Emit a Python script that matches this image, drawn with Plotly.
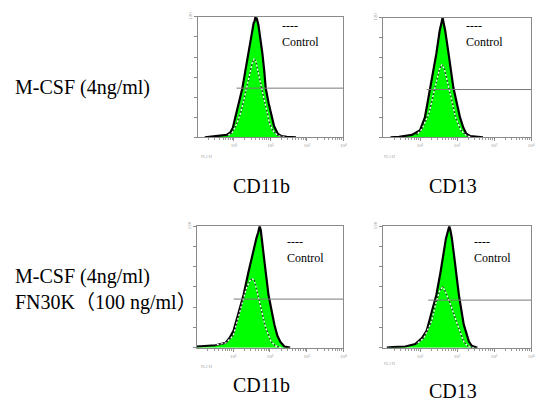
import plotly.graph_objects as go
import numpy as np

# ---- data: x = log10 fluorescence intensity (decades 10^0..10^4), y = cell counts ----
tick_decades = [1, 2, 3, 4]
tick_labels = ["10¹", "10²", "10³", "10⁴"]
y_top_label = "120"

# Panel 1: M-CSF, CD11b
p1_sample_x = [0.2, 0.4, 0.6, 0.8, 0.9, 0.97, 1.03, 1.1, 1.17, 1.23, 1.31, 1.39, 1.45, 1.49, 1.54,
               1.56, 1.57, 1.58, 1.59, 1.6, 1.62, 1.67, 1.71, 1.75, 1.78, 1.83, 1.87, 1.95, 2.03,
               2.1, 2.2, 2.3, 2.45, 2.7]
p1_sample_y = [0, 0.6, 1.2, 2.4, 4.8, 9.6, 19, 30, 40, 49, 66, 83, 96, 106, 114,
               115, 119, 117, 120, 118, 119, 112, 103, 92, 83, 66, 49, 34, 20,
               11, 3.6, 1.2, 0.4, 0]
p1_control_x = [0.8, 0.95, 1.07, 1.17, 1.25, 1.33, 1.39, 1.45, 1.5, 1.55, 1.6, 1.65, 1.71, 1.78,
                1.85, 1.92, 1.98, 2.08, 2.2, 2.4]
p1_control_y = [1.2, 4.8, 13, 23, 34, 46, 56, 67, 74, 78, 76, 67, 56, 44, 34, 23, 13, 6, 1.8, 0]
p1_gate_x = [1.07, 4.0]
p1_gate_y = [49, 49]

# Panel 2: M-CSF, CD13
p2_sample_x = [0.2, 0.43, 0.78, 1.0, 1.13, 1.21, 1.29, 1.37, 1.44, 1.53, 1.58, 1.6, 1.61, 1.63,
               1.68, 1.77, 1.83, 1.9, 1.99, 2.08, 2.17, 2.25, 2.36, 2.5, 2.7]
p2_sample_y = [0, 0.6, 2.4, 7.2, 20, 36, 50, 68, 84, 107, 116, 118, 120, 116,
               107, 84, 67, 50, 35, 20, 9.6, 3.6, 1.2, 0.4, 0]
p2_control_x = [0.9, 1.05, 1.24, 1.35, 1.45, 1.52, 1.59, 1.66, 1.74, 1.83, 1.96, 2.1, 2.25, 2.4]
p2_control_y = [2.4, 8.4, 24, 41, 58, 68, 73, 68, 56, 41, 20, 7.2, 1.8, 0]
p2_gate_x = [1.18, 4.0]
p2_gate_y = [48, 48]

# Panel 3: M-CSF + FN30K, CD11b
p3_sample_x = [0.0, 0.25, 0.52, 0.79, 0.9, 1.01, 1.16, 1.28, 1.41, 1.54, 1.63, 1.68, 1.71, 1.72,
               1.75, 1.78, 1.85, 1.96, 2.04, 2.12, 2.2, 2.28, 2.39, 2.55]
p3_sample_y = [1.2, 1.8, 2.4, 4.8, 9.6, 17, 36, 52, 74, 95, 108, 114, 117, 120,
               116, 108, 85, 52, 36, 23, 12, 6, 1.2, 0]
p3_control_x = [0.5, 0.8, 1.0, 1.1, 1.23, 1.35, 1.45, 1.52, 1.58, 1.66, 1.76, 1.88, 2.03, 2.15, 2.3]
p3_control_y = [2.4, 4.8, 12, 26, 42, 58, 66, 68, 66, 54, 36, 20, 6, 1.8, 0]
p3_gate_x = [1.01, 4.0]
p3_gate_y = [48, 48]

# Panel 4: M-CSF + FN30K, CD13
p4_sample_x = [0.1, 0.25, 0.6, 0.87, 1.05, 1.18, 1.32, 1.44, 1.55, 1.64, 1.7, 1.76, 1.79, 1.82,
               1.86, 1.94, 2.05, 2.18, 2.32, 2.4, 2.55]
p4_sample_y = [0, 0.6, 1.2, 3.6, 9.6, 17, 36, 52, 74, 95, 108, 116, 120, 116,
               108, 85, 52, 23, 6, 1.8, 0]
p4_control_x = [0.9, 1.1, 1.31, 1.44, 1.53, 1.61, 1.68, 1.83, 2.01, 2.18, 2.3, 2.45]
p4_control_y = [3.6, 9.6, 26, 46, 56, 60, 56, 42, 23, 6, 1.2, 0]
p4_gate_x = [1.22, 4.0]
p4_gate_y = [47, 47]

row_labels = ["M-CSF (4ng/ml)", "M-CSF (4ng/ml)<br>FN30K（100 ng/ml）"]
marker_labels = ["CD11b", "CD13", "CD11b", "CD13"]
control_label = "----<br>Control"
axis_title = "FL1-H"

# ---- layout helpers (pixel boxes of the 535x403 canvas) ----
W, H = 535, 403
def px(x):
    return x / W
def py(y):
    return 1 - y / H

boxes = [  # left, right, top, bottom in px
    (199, 346, 12, 134),
    (386, 535, 13, 134),
    (198, 346, 224, 347),
    (386, 535, 224, 347),
]

panels = [
    (p1_sample_x, p1_sample_y, p1_control_x, p1_control_y, p1_gate_x, p1_gate_y),
    (p2_sample_x, p2_sample_y, p2_control_x, p2_control_y, p2_gate_x, p2_gate_y),
    (p3_sample_x, p3_sample_y, p3_control_x, p3_control_y, p3_gate_x, p3_gate_y),
    (p4_sample_x, p4_sample_y, p4_control_x, p4_control_y, p4_gate_x, p4_gate_y),
]

minor_vals = [d + np.log10(k) for d in range(0, 4) for k in range(2, 10)]

fig = go.Figure()
serif = "Liberation Serif, Times New Roman, Noto Sans CJK SC, serif"

for i, (sx, sy, cx, cy, gx, gy) in enumerate(panels):
    n = "" if i == 0 else str(i + 1)
    xa, ya = "x" + n, "y" + n
    fig.add_trace(go.Scatter(x=sx, y=sy, xaxis=xa, yaxis=ya, mode="lines",
                             fill="tozeroy", fillcolor="#00FF00",
                             line=dict(color="black", width=2.2), hoverinfo="skip"))
    fig.add_trace(go.Scatter(x=cx, y=cy, xaxis=xa, yaxis=ya, mode="lines",
                             line=dict(color="#333333", width=1.2, dash="2px,2px"),
                             hoverinfo="skip"))
    fig.add_trace(go.Scatter(x=cx, y=cy, xaxis=xa, yaxis=ya, mode="lines",
                             line=dict(color="white", width=1.2, dash="0px,2px,2px,0px"),
                             hoverinfo="skip"))
    fig.add_trace(go.Scatter(x=gx, y=gy, xaxis=xa, yaxis=ya, mode="lines",
                             line=dict(color="#7a7a7a", width=1), hoverinfo="skip"))

    l, r, t, b = boxes[i]
    xkey = "xaxis" + n
    ykey = "yaxis" + n
    fig.layout[xkey] = dict(
        domain=[px(l), px(r)], range=[0, 4], anchor=ya,
        showline=True, linecolor="#8a8a8a", linewidth=1, mirror=True,
        showgrid=False, zeroline=False,
        ticks="outside", ticklen=3, tickcolor="#8a8a8a", tickwidth=1,
        tickvals=tick_decades, ticktext=tick_labels,
        tickfont=dict(size=5, color="#9a9a9a", family=serif),
        minor=dict(tickvals=minor_vals, ticks="outside", ticklen=2,
                   tickcolor="#9a9a9a", tickwidth=1, showgrid=False),
    )
    fig.layout[ykey] = dict(
        domain=[py(b), py(t)], range=[0, 120], anchor=xa,
        showline=True, linecolor="#8a8a8a", linewidth=1, mirror=True,
        showgrid=False, zeroline=False,
        ticks="outside", ticklen=3, tickcolor="#8a8a8a", tickwidth=1,
        tickvals=[0, 20, 40, 60, 80, 100, 120],
        ticktext=["", "", "", "", "", "", y_top_label],
        tickangle=-90,
        tickfont=dict(size=5, color="#9a9a9a", family=serif),
    )

anns = []
big = dict(size=20, family=serif, color="black")
# row labels
anns.append(dict(x=px(13), y=py(84), text=row_labels[0], xanchor="left", yanchor="middle",
                 align="left", font=big))
anns.append(dict(x=px(13), y=py(288), text=row_labels[1], xanchor="left", yanchor="middle",
                 align="left", font=big))
# marker labels under panels
for txt, (cxp, cyp) in zip(marker_labels, [(263, 183), (456, 183), (263, 385), (456, 391)]):
    anns.append(dict(x=px(cxp), y=py(cyp), text=txt, xanchor="center", yanchor="middle",
                     font=big))
# control legends
for (lx, ty) in [(282, 29), (467, 29), (287, 248), (476, 248)]:
    anns.append(dict(x=px(lx), y=py(ty), text=control_label, xanchor="left", yanchor="middle",
                     align="left", font=dict(size=12, family=serif, color="black")))
# tiny axis titles
for (lx, ty) in [(200, 153), (385, 153), (200, 366), (385, 363)]:
    anns.append(dict(x=px(lx), y=py(ty), text=axis_title, xanchor="left", yanchor="middle",
                     font=dict(size=4, family=serif, color="#9a9a9a")))
for a in anns:
    a.update(xref="paper", yref="paper", showarrow=False)

fig.update_layout(
    width=W, height=H, margin=dict(l=0, r=0, t=0, b=0),
    paper_bgcolor="white", plot_bgcolor="white",
    showlegend=False, annotations=anns,
)

fig.write_html("out.html")
